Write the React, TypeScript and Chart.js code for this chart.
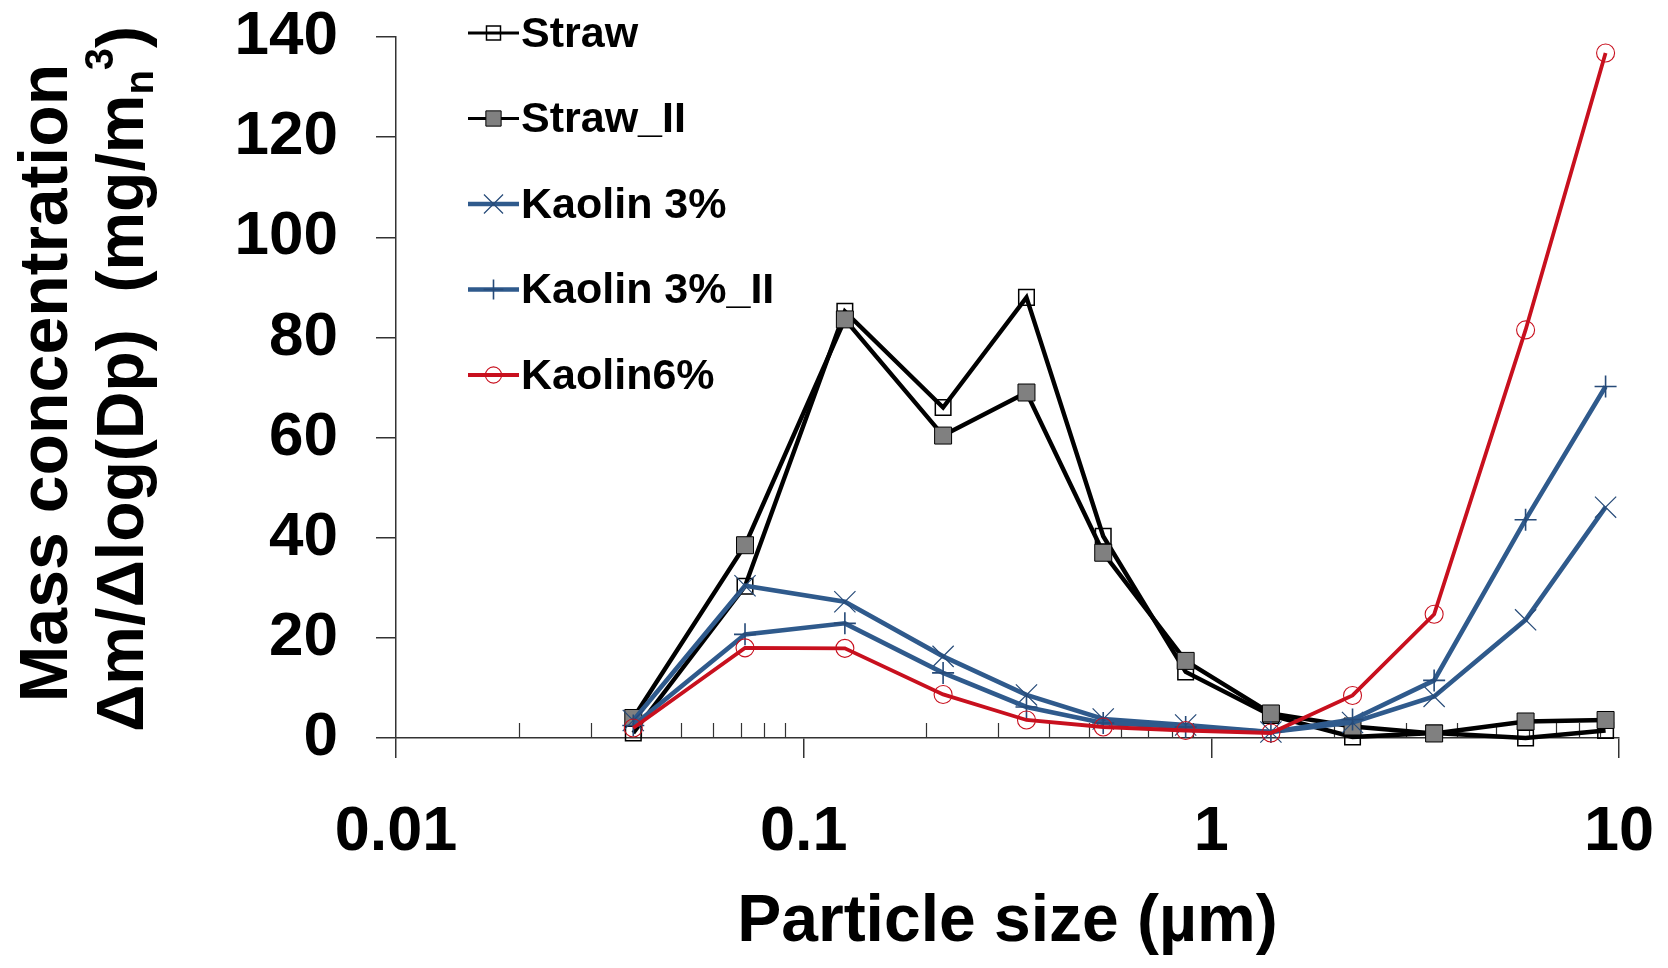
import React, { useEffect, useRef } from 'react';
import { Chart, registerables } from 'chart.js';

Chart.register(...registerables);

// ---- Data ----
const PARTICLE_SIZES = [0.0382, 0.0718, 0.1262, 0.2198, 0.352, 0.543, 0.865, 1.4, 2.22, 3.52, 5.9, 9.27];
const STRAW = [1.0, 30.3, 85.2, 66.0, 88.0, 40.3, 13.2, 4.5, 0.2, 1.0, 0.0, 1.5];
const STRAW_II = [4.0, 38.5, 83.6, 60.4, 69.0, 37.0, 15.4, 4.9, 2.3, 0.9, 3.3, 3.6];
const KAOLIN_3 = [3.5, 30.4, 27.2, 16.3, 8.6, 3.8, 2.6, 1.2, 3.1, 8.3, 23.6, 46.1];
const KAOLIN_3_II = [2.5, 20.7, 22.9, 13.0, 6.2, 3.0, 2.2, 1.2, 3.7, 11.5, 43.6, 70.2];
const KAOLIN_6 = [2.0, 18.0, 17.9, 8.7, 3.6, 2.2, 1.5, 1.0, 8.5, 24.7, 81.5, 136.8];

const SERIES_LABELS = ['Straw', 'Straw_II', 'Kaolin 3%', 'Kaolin 3%_II', 'Kaolin6%'];
const X_TICKS = [0.01, 0.1, 1, 10];
const X_TICK_LABELS = ['0.01', '0.1', '1', '10'];
const X_DECADES = [0.01, 0.1, 1];
const MINOR_MULTIPLIERS = [2, 3, 4, 5, 6, 7, 8, 9];
const Y_MIN = 0;
const Y_MAX = 140;
const Y_STEP = 20;
const X_TITLE = 'Particle size (µm)';
const Y_TITLE_LINE1 = 'Mass concentration';
const Y_TITLE_LINE2_MAIN = 'Δm/Δlog(Dp)  (mg/m';
const Y_TITLE_SUB = 'n';
const Y_TITLE_SUP = '3';
const Y_TITLE_END = ')';

const FONT = '"Liberation Sans", Arial, Helvetica, sans-serif';
const BLUE = '#2F5A8C';
const BLUE_MARK = '#264A78';
const RED = '#C8101E';

const toPoints = (arr: number[]) => PARTICLE_SIZES.map((x, i) => ({ x, y: arr[i] }));

type Style = {
  color: string;
  width: number;
  pointStyle: string;
  radius: number;
  pBorder: string;
  pFill: string;
  pWidth: number;
};

const STYLES: Style[] = [
  { color: '#000000', width: 4.4, pointStyle: 'rect', radius: 11, pBorder: '#000000', pFill: 'rgba(255,255,255,0)', pWidth: 1.5 },
  { color: '#000000', width: 4.4, pointStyle: 'rect', radius: 12, pBorder: '#000000', pFill: '#808080', pWidth: 1 },
  { color: BLUE, width: 4.6, pointStyle: 'crossRot', radius: 15, pBorder: BLUE_MARK, pFill: BLUE_MARK, pWidth: 1.2 },
  { color: BLUE, width: 4.6, pointStyle: 'cross', radius: 11, pBorder: BLUE_MARK, pFill: BLUE_MARK, pWidth: 1.6 },
  { color: RED, width: 3.8, pointStyle: 'circle', radius: 9, pBorder: RED, pFill: 'rgba(255,255,255,0)', pWidth: 1.1 },
];

const SERIES = [STRAW, STRAW_II, KAOLIN_3, KAOLIN_3_II, KAOLIN_6];

function drawMarker(ctx: CanvasRenderingContext2D, s: Style, x: number, y: number) {
  ctx.save();
  ctx.lineWidth = s.pWidth;
  ctx.strokeStyle = s.pBorder;
  ctx.fillStyle = s.pFill;
  ctx.beginPath();
  const r = s.radius;
  if (s.pointStyle === 'rect') {
    const h = r * Math.SQRT1_2;
    ctx.rect(x - h, y - h, 2 * h, 2 * h);
    ctx.fill();
    ctx.stroke();
  } else if (s.pointStyle === 'circle') {
    ctx.arc(x, y, r, 0, Math.PI * 2);
    ctx.fill();
    ctx.stroke();
  } else if (s.pointStyle === 'cross') {
    ctx.moveTo(x - r, y);
    ctx.lineTo(x + r, y);
    ctx.moveTo(x, y - r);
    ctx.lineTo(x, y + r);
    ctx.stroke();
  } else if (s.pointStyle === 'crossRot') {
    const d = r * Math.SQRT1_2;
    ctx.moveTo(x - d, y - d);
    ctx.lineTo(x + d, y + d);
    ctx.moveTo(x - d, y + d);
    ctx.lineTo(x + d, y - d);
    ctx.stroke();
  }
  ctx.restore();
}

const minorTicksPlugin = {
  id: 'minorTicks',
  beforeDatasetsDraw(chart: any) {
    const { ctx, scales } = chart;
    const xs = scales.x;
    const bottom = chart.chartArea.bottom;
    ctx.save();
    ctx.strokeStyle = '#333333';
    ctx.lineWidth = 1.2;
    ctx.beginPath();
    X_DECADES.forEach((d) => {
      MINOR_MULTIPLIERS.forEach((m) => {
        const px = Math.round(xs.getPixelForValue(d * m)) + 0.5;
        ctx.moveTo(px, bottom);
        ctx.lineTo(px, bottom - 15);
      });
    });
    ctx.stroke();
    ctx.restore();
  },
};

const legendPlugin = {
  id: 'customLegend',
  afterDraw(chart: any) {
    const { ctx } = chart;
    const x0 = 468;
    const x1 = 519;
    const rowY0 = 33;
    const rowGap = 85.5;
    ctx.save();
    ctx.font = `bold 43px ${FONT}`;
    ctx.textBaseline = 'middle';
    ctx.textAlign = 'left';
    SERIES_LABELS.forEach((label, i) => {
      const s = STYLES[i];
      const y = rowY0 + i * rowGap;
      ctx.strokeStyle = s.color;
      ctx.lineWidth = i < 2 ? 2.8 : s.width;
      ctx.beginPath();
      ctx.moveTo(x0, y);
      ctx.lineTo(x1, y);
      ctx.stroke();
      drawMarker(ctx, { ...s, radius: s.radius * 0.9 }, (x0 + x1) / 2, y);
      ctx.fillStyle = '#000000';
      ctx.fillText(label, x1 + 2, y + 2);
    });
    ctx.restore();
  },
};

const yTitlePlugin = {
  id: 'yTitle',
  afterDraw(chart: any) {
    const { ctx } = chart;
    const cy = 383;
    ctx.save();
    ctx.fillStyle = '#000000';
    ctx.textBaseline = 'alphabetic';
    // line 1
    ctx.save();
    ctx.translate(67, cy);
    ctx.rotate(-Math.PI / 2);
    ctx.font = `bold 68px ${FONT}`;
    ctx.textAlign = 'center';
    ctx.fillText(Y_TITLE_LINE1, 0, 0);
    ctx.restore();
    // line 2 with sub/superscript
    ctx.save();
    ctx.translate(143, cy - 4);
    ctx.rotate(-Math.PI / 2);
    const bigFont = `bold 66px ${FONT}`;
    const smallFont = `bold 40px ${FONT}`;
    ctx.font = bigFont;
    const wMain = ctx.measureText(Y_TITLE_LINE2_MAIN).width;
    const wEnd = ctx.measureText(Y_TITLE_END).width;
    ctx.font = smallFont;
    const wSub = ctx.measureText(Y_TITLE_SUB).width;
    const wSup = ctx.measureText(Y_TITLE_SUP).width;
    const total = wMain + wSub + wSup + wEnd;
    let u = -total / 2;
    ctx.textAlign = 'left';
    ctx.font = bigFont;
    ctx.fillText(Y_TITLE_LINE2_MAIN, u, 0);
    u += wMain;
    ctx.font = smallFont;
    ctx.fillText(Y_TITLE_SUB, u, 10);
    u += wSub;
    ctx.fillText(Y_TITLE_SUP, u, -30);
    u += wSup;
    ctx.font = bigFont;
    ctx.fillText(Y_TITLE_END, u, 0);
    ctx.restore();
    ctx.restore();
  },
};

const zeroPadding = (s: any) => {
  s.paddingLeft = 0;
  s.paddingRight = 0;
  s.paddingTop = 0;
  s.paddingBottom = 0;
};

export default function App() {
  const canvasRef = useRef<HTMLCanvasElement | null>(null);

  useEffect(() => {
    if (!canvasRef.current) return;
    const datasets = SERIES.map((arr, i) => {
      const s = STYLES[i];
      return {
        label: SERIES_LABELS[i],
        data: toPoints(arr),
        borderColor: s.color,
        backgroundColor: s.color,
        borderWidth: s.width,
        pointStyle: s.pointStyle as any,
        pointRadius: s.radius,
        pointBorderColor: s.pBorder,
        pointBackgroundColor: s.pFill,
        pointBorderWidth: s.pWidth,
        tension: 0,
        fill: false,
        order: SERIES.length - i,
        clip: false as any,
      };
    });

    const chart = new Chart(canvasRef.current, {
      type: 'line',
      data: { datasets },
      options: {
        animation: false,
        responsive: false,
        devicePixelRatio: 1,
        layout: { padding: { left: 0, top: 37, right: 49, bottom: 0 } },
        plugins: {
          legend: { display: false },
          tooltip: { enabled: false },
        },
        scales: {
          x: {
            type: 'logarithmic',
            min: 0.01,
            max: 10,
            position: 'bottom',
            afterBuildTicks: (s: any) => {
              s.ticks = X_TICKS.map((v) => ({ value: v, major: true }));
            },
            afterFit: (s: any) => {
              s.height = 230;
              zeroPadding(s);
            },
            ticks: {
              autoSkip: false,
              maxRotation: 0,
              padding: 37,
              color: '#000000',
              font: { family: FONT, size: 63, weight: 'bold' },
              callback: (_v: any, idx: number) => X_TICK_LABELS[idx],
            },
            grid: { drawOnChartArea: false, tickLength: 20, color: '#333333', lineWidth: 1.5 },
            border: { color: '#333333', width: 1.5 },
            title: {
              display: true,
              text: X_TITLE,
              color: '#000000',
              font: { family: FONT, size: 66, weight: 'bold' },
              padding: { top: 0, bottom: 6 },
            },
          },
          y: {
            type: 'linear',
            min: Y_MIN,
            max: Y_MAX,
            afterFit: (s: any) => {
              s.width = 396;
              zeroPadding(s);
            },
            ticks: {
              stepSize: Y_STEP,
              padding: 38,
              color: '#000000',
              font: { family: FONT, size: 62, weight: 'bold' },
            },
            grid: { drawOnChartArea: false, tickLength: 20, color: '#333333', lineWidth: 1.5 },
            border: { color: '#333333', width: 1.5 },
          },
        },
      },
      plugins: [minorTicksPlugin, legendPlugin, yTitlePlugin],
    } as any);

    return () => {
      chart.destroy();
    };
  }, []);

  return (
    <div style={{ position: 'fixed', left: 0, top: 0, width: 1668, height: 968, background: '#ffffff' }}>
      <canvas ref={canvasRef} width={1668} height={968} style={{ width: 1668, height: 968, display: 'block' }} />
    </div>
  );
}
